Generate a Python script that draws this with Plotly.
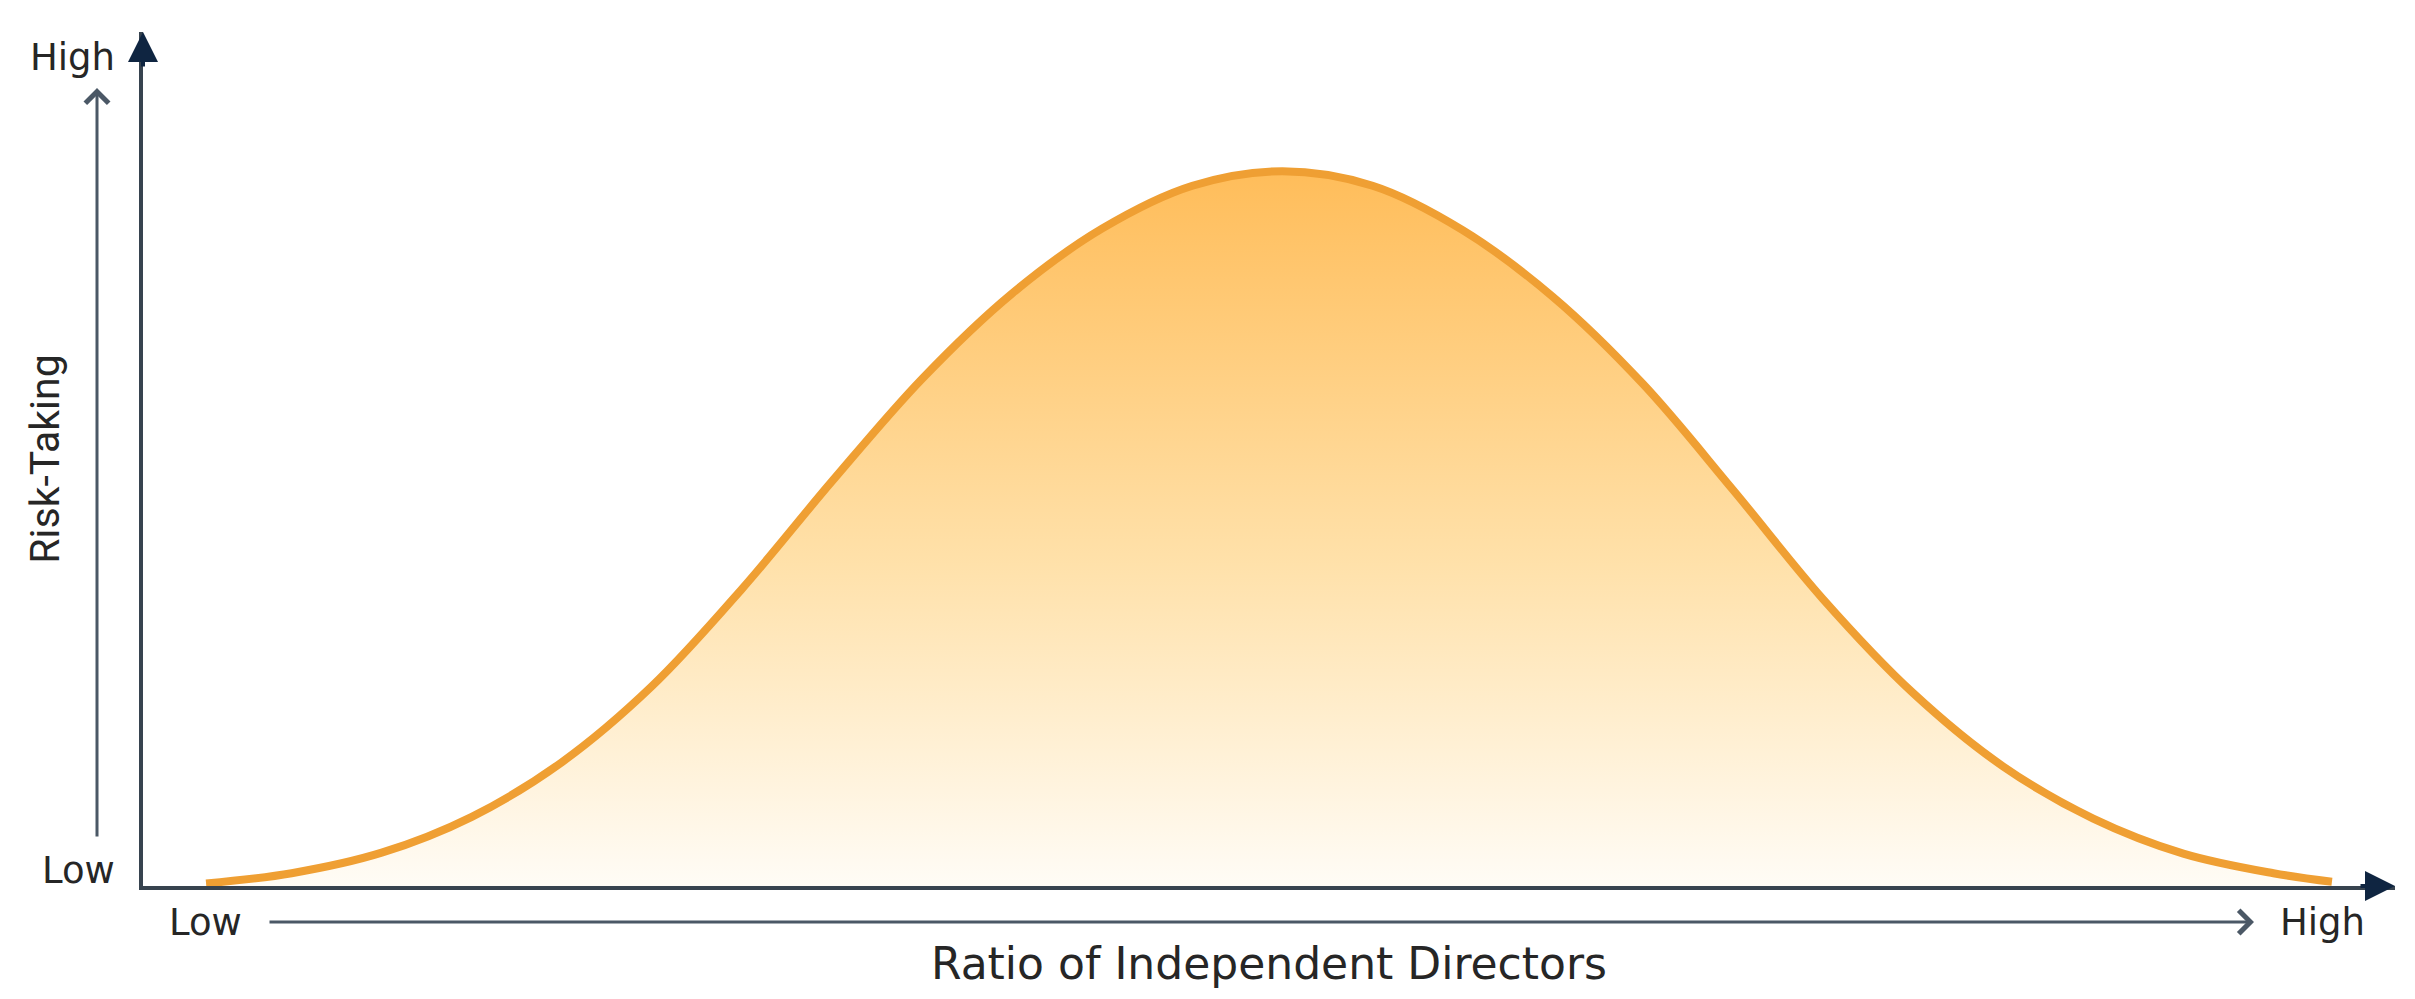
import plotly.graph_objects as go

# ---- data (x: ratio of independent directors 0-100, y: risk-taking 0-100)
ratio = [2.8, 6.6, 10.6, 14.6, 18.6, 22.6, 26.6, 30.6, 34.6, 38.6, 42.6, 46.6, 50.6,
         54.6, 58.6, 62.6, 66.6, 70.6, 74.6, 78.6, 82.6, 86.6, 90.6, 94.6, 97.2]
risk = [0.3, 1.5, 3.9, 8.1, 14.5, 23.4, 34.8, 47.4, 59.4, 69.4, 77.0, 82.0, 83.7,
        82.0, 76.8, 69.0, 58.8, 46.4, 33.6, 22.6, 14.0, 7.9, 3.8, 1.5, 0.5]

x_title = "Ratio of Independent Directors"
y_title = "Risk-Taking"
x_ticks = ["Low", "High"]
y_ticks = ["Low", "High"]

# ---- layout geometry
W, H = 2415, 999
ML, MR, MT, MB = 143, 20, 32, 113
PW, PH = W - ML - MR, H - MT - MB


def px(xp):
    return (xp - ML) / PW


def py(yp):
    return (H - MB - yp) / PH


AXIS = "#37434F"
HEAD = "#0F2541"
THIN = "#4B5866"
TXT = "#262626"
LABEL_FONT = dict(family="DejaVu Sans, sans-serif", size=37, color=TXT)

fig = go.Figure()
fig.add_trace(go.Scatter(
    x=ratio, y=risk, mode="lines",
    line=dict(color="#EF9F33", width=8, shape="spline", smoothing=1.0),
    fill="tozeroy",
    fillgradient=dict(type="vertical",
                      colorscale=[[0, "rgba(255,252,246,1)"], [0.45, "#FFE1AA"], [1, "#FFBD5A"]]),
    hoverinfo="skip", showlegend=False,
))

annotations = [
    # axis arrowheads
    dict(x=1, y=0, xref="paper", yref="paper", ax=-36, ay=0, text="", showarrow=True,
         arrowhead=2, arrowsize=1.5, arrowwidth=4, arrowcolor=HEAD, standoff=0),
    dict(x=0, y=1, xref="paper", yref="paper", ax=0, ay=36, text="", showarrow=True,
         arrowhead=2, arrowsize=1.5, arrowwidth=4, arrowcolor=HEAD, standoff=0),
    # thin direction arrows
    dict(x=px(2254), y=py(922), xref="paper", yref="paper", ax=268 - 2254, ay=0, text="",
         showarrow=True, arrowhead=4, arrowsize=1.5, arrowwidth=3, arrowcolor=THIN, standoff=0),
    dict(x=px(97), y=py(88), xref="paper", yref="paper", ax=0, ay=838 - 88, text="",
         showarrow=True, arrowhead=4, arrowsize=1.5, arrowwidth=3, arrowcolor=THIN, standoff=0),
    # Low / High labels
    dict(x=px(205), y=py(922), xref="paper", yref="paper", text=x_ticks[0], showarrow=False,
         xanchor="center", yanchor="middle", font=LABEL_FONT),
    dict(x=px(2322), y=py(922), xref="paper", yref="paper", text=x_ticks[1], showarrow=False,
         xanchor="center", yanchor="middle", font=LABEL_FONT),
    dict(x=px(78), y=py(870), xref="paper", yref="paper", text=y_ticks[0], showarrow=False,
         xanchor="center", yanchor="middle", font=LABEL_FONT),
    dict(x=px(72), y=py(57), xref="paper", yref="paper", text=y_ticks[1], showarrow=False,
         xanchor="center", yanchor="middle", font=LABEL_FONT),
]

fig.update_layout(
    width=W, height=H,
    margin=dict(l=ML, r=MR, t=MT, b=MB, pad=0),
    paper_bgcolor="white", plot_bgcolor="white",
    annotations=annotations,
    xaxis=dict(range=[0, 100], showgrid=False, zeroline=False, showticklabels=False, ticks="",
               showline=True, linecolor=AXIS, linewidth=4, fixedrange=True, automargin=False,
               title=dict(text=x_title, standoff=60,
                          font=dict(family="DejaVu Sans, sans-serif", size=44, color=TXT))),
    yaxis=dict(range=[0, 100], showgrid=False, zeroline=False, showticklabels=False, ticks="",
               showline=True, linecolor=AXIS, linewidth=4, fixedrange=True, automargin=False,
               title=dict(text=y_title, standoff=68,
                          font=dict(family="Roboto, sans-serif", size=41, color=TXT))),
)

fig.write_html("out.html", post_script="document.body.style.margin='0';",
               config={"displayModeBar": False})
